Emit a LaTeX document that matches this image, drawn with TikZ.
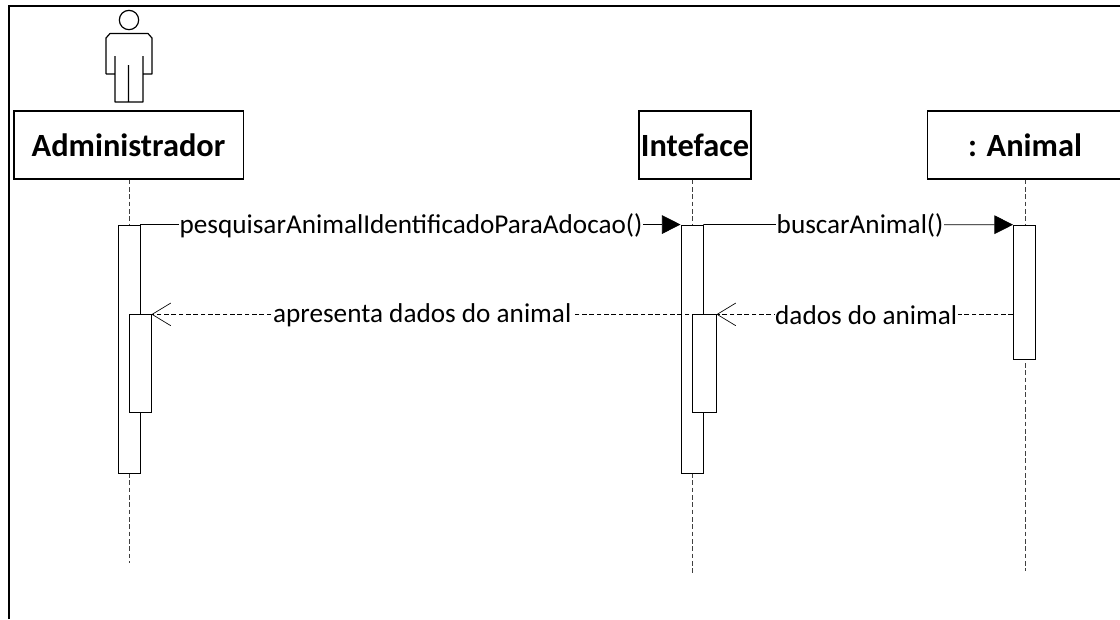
\documentclass[tikz,border=0pt]{standalone}
\usepackage{fontspec}
\setmainfont{Carlito}
\usepackage{tikz}
\usetikzlibrary{positioning,arrows.meta}

\begin{document}
\begin{tikzpicture}[
    x=0.75pt, y=-0.75pt,
    headbox/.style={draw, line width=1pt, minimum height=51pt, inner sep=0pt,
                 font=\fontsize{24.3}{28}\bfseries},
    bar/.style={draw, line width=0.7pt, fill=white, minimum width=16.5pt, inner sep=0pt},
    msglabel/.style={fill=white, inner sep=0.5pt, yshift=-0.75pt, font=\fontsize{20.4}{24}\selectfont},
    lifeline/.style={dash pattern=on 3.5pt off 2pt, line width=0.6pt, black!75},
    call/.style={-{Triangle[length=14pt,width=14pt]}, line width=0.6pt},
    reply/.style={-{Straight Barb[length=14pt,width=17pt,line width=0.5pt]}, dash pattern=on 3.5pt off 2pt, line width=0.5pt},
]
\useasboundingbox (0,0) rectangle (1120,619);
\draw[line width=1.8pt] (9,619) -- (9,6) -- (1120,6);

% actor
\node[circle, draw, line width=0.9pt, minimum size=14.5pt, inner sep=0pt] (head) at (129,20) {};
\draw[line width=0.9pt, line join=round] (106,74) -- (106,38) -- (110,33.5) -- (148,33.5) -- (152,38) -- (152,74) -- (143,74) -- (143,56)
    (143,74) -- (143,102) -- (115,102) -- (115,56) (115,74) -- (106,74) (128.5,65) -- (128.5,102);

% header boxes
\node[headbox, minimum width=172pt] (admin) at (128.5,145) {Administrador};
\node[headbox, minimum width=84pt] (inteface) at (695,145) {Inteface};
\node[headbox, minimum width=146pt] (animal) at (1025,145) {: Animal};

\coordinate (adminend) at (129,563);
\coordinate (intefaceend) at (692,575);
\coordinate (animalend) at (1025,571);
\draw[lifeline] (admin.south -| adminend) -- (adminend);
\draw[lifeline] (inteface.south -| intefaceend) -- (intefaceend);
\draw[lifeline] (animal.south -| animalend) -- (animalend);

% activation bars
\node[bar, minimum height=186pt] (adminbar) at (129,349) {};
\node[bar, minimum height=73pt] (adminsub) at (140,363.5) {};
\node[bar, minimum height=186pt] (intefacebar) at (692,349) {};
\node[bar, minimum width=18pt, minimum height=73pt] (intefacesub) at (704,363.5) {};
\node[bar, minimum height=101pt] (animalbar) at (1024.5,292.5) {};

% messages
\draw[call] (adminbar.north east) -- (intefacebar.north west)
    node[msglabel, pos=0.501] (pesquisar) {pesquisarAnimalIdentificadoParaAdocao()};
\draw[call] (intefacebar.north east) -- (animalbar.north west)
    node[msglabel, pos=0.506] (buscar) {buscarAnimal()};
\coordinate (animalret) at (animalbar.west |- intefacesub.north);
\draw[reply] (animalret) -- (intefacesub.north east)
    node[msglabel, pos=0.495] (dados) {dados do animal};
\coordinate (intefaceret) at (intefacesub.north);
\draw[reply] (intefaceret) -- (adminsub.north east)
    node[msglabel, pos=0.51] (apresenta) {apresenta dados do animal};
\end{tikzpicture}
\end{document}
